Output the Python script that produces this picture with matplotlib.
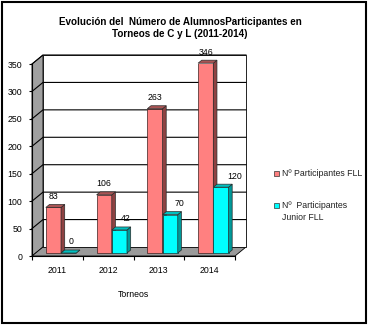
import matplotlib
matplotlib.use("Agg")
import matplotlib.pyplot as plt
from matplotlib import font_manager
from matplotlib.patches import Polygon, Rectangle
from matplotlib.lines import Line2D
from matplotlib.transforms import IdentityTransform, Affine2D

# ---- data -------------------------------------------------------------
years = ["2011", "2012", "2013", "2014"]
fll = [83, 106, 263, 346]
junior = [0, 42, 70, 120]
yticks = [0, 50, 100, 150, 200, 250, 300, 350]
series_names = ["Nº Participantes FLL", "Nº  Participantes\nJunior FLL"]
title = "Evolución del  Número de AlumnosParticipantes en\nTorneos de C y L (2011-2014)"
xlabel = "Torneos"

# ---- styling ----------------------------------------------------------
plt.rcParams["font.family"] = ["Liberation Sans", "DejaVu Sans"]
W, H, DPI = 371, 327, 100
FS = 6.3
RED = dict(front="#FF8080", top="#A85454", side="#8E4242")
CYAN = dict(front="#00FFFF", top="#00BFBF", side="#009999")
WALL = "#A0A0A0"
FLOOR = "#9A9A9A"

installed = {f.name for f in font_manager.fontManager.ttflist}
if "Liberation Sans Narrow" in installed:
    TITLE_FONT, TITLE_FS = ["Liberation Sans Narrow", "Liberation Sans"], 9.0
else:
    TITLE_FONT, TITLE_FS = ["Liberation Sans", "DejaVu Sans"], 7.1

fig = plt.figure(figsize=(W / DPI, H / DPI), dpi=DPI)
fig.patch.set_facecolor("white")
ax = fig.add_axes([32 / W, 71 / H, 203 / W, 192 / H])
ax.set_xlim(-0.5, len(years) - 0.5)
ax.set_ylim(yticks[0], yticks[-1])
ax.patch.set_visible(False)

# oblique depth of the 3-D box, in pixels
DX, DY = 11.0, 9.0
BAR_W = 0.3
D0, D1 = 1 / 3, 2 / 3


def px(x, y, d):
    X, Y = ax.transData.transform((x, y))
    return (X + DX * d, Y + DY * d)


def face(pts, color, z, ec="none", lw=0.0):
    ax.add_artist(Polygon(pts, closed=True, transform=IdentityTransform(),
                          facecolor=color, edgecolor=ec, lw=lw, zorder=z,
                          clip_on=False))


def seg(pts, z, color="black", lw=0.8):
    xs, ys = zip(*pts)
    ax.add_artist(Line2D(xs, ys, transform=IdentityTransform(), color=color,
                         lw=lw, zorder=z, clip_on=False))


x0, x1 = ax.get_xlim()
ymin, ymax = ax.get_ylim()

# walls and floor
face([px(x0, ymin, 0), px(x0, ymax, 0), px(x0, ymax, 1), px(x0, ymin, 1)],
     WALL, 0.5, ec="black", lw=0.6)
face([px(x0, ymin, 0), px(x1, ymin, 0), px(x1, ymin, 1), px(x0, ymin, 1)],
     FLOOR, 0.5, ec="black", lw=0.6)
face([px(x0, ymin, 1), px(x1, ymin, 1), px(x1, ymax, 1), px(x0, ymax, 1)],
     "white", 0.6, ec="black", lw=0.6)
for v in yticks[1:]:
    seg([px(x0, v, 0), px(x0, v, 1), px(x1, v, 1)], 0.7)

# bars: front face through ax.bar, side and top faces as parallelograms
front_tr = ax.transData + Affine2D().translate(DX * D0, DY * D0)
for i in range(len(years)):
    for vals, col, shift, front_series in ((fll, RED, -BAR_W, False),
                                           (junior, CYAN, 0.0, True)):
        v = vals[i]
        a, b = i + shift, i + shift + BAR_W
        z = 3 + i * 2 + (1 if front_series else 0)
        ax.bar([a], [v], width=BAR_W, align="edge", color=col["front"],
               edgecolor="#0b3b3b" if front_series else "#3a1f1f", lw=0.5,
               transform=front_tr, zorder=z)
        face([px(b, 0, D0), px(b, v, D0), px(b, v, D1), px(b, 0, D1)],
             col["side"], z, ec="#2a2a2a", lw=0.5)
        face([px(a, v, D0), px(b, v, D0), px(b, v, D1), px(a, v, D1)],
             col["top"], z, ec="#2a2a2a", lw=0.5)
        # value labels of the junior series lean right as the bar grows
        h_px = px(0, v, 0)[1] - px(0, 0, 0)[1]
        off = (2 + 0.18 * h_px) if front_series else 0.0
        ax.annotate(str(v), xy=((a + b) / 2, v), xycoords=front_tr,
                    xytext=(off * 0.72, 11 * 0.72), textcoords="offset points",
                    ha="center", va="center", fontsize=FS, zorder=20)

# axes, ticks, labels
for s in ("top", "right"):
    ax.spines[s].set_visible(False)
for s in ("left", "bottom"):
    ax.spines[s].set_linewidth(0.8)
    ax.spines[s].set_zorder(2)
ax.set_yticks(yticks)
ax.tick_params(axis="y", length=3 * 0.72, width=0.8, pad=5, labelsize=FS)
ax.set_xticks(range(len(years)), years)
ax.set_xticks([k - 0.5 for k in range(len(years) + 1)], minor=True)
ax.tick_params(axis="x", which="major", length=0, pad=7, labelsize=FS)
ax.tick_params(axis="x", which="minor", length=4 * 0.72, width=0.8)
ax.set_xlabel(xlabel, fontsize=FS, labelpad=11)

# title
fig.text(180 / W, 1 - 28 / H, title, ha="center", va="center",
         fontsize=TITLE_FS, fontweight="bold", family=TITLE_FONT,
         linespacing=1.2)

# legend
for k, (name, col) in enumerate(zip(series_names, (RED, CYAN))):
    yc = H - (173 + 32 * k)
    fig.add_artist(Rectangle((274, yc - 2.5), 5, 5, transform=IdentityTransform(),
                             facecolor=col["front"], edgecolor="#333333", lw=0.5))
    for j, line in enumerate(name.split("\n")):
        fig.text(282 / W, (yc - 13 * j) / H, line, ha="left", va="center",
                 fontsize=FS, color="#222222")

# chart border
fig.add_artist(Rectangle((1.5, H - 322.5), 364.5, 320.5, transform=IdentityTransform(),
                         facecolor="none", edgecolor="black", lw=1.5))

fig.savefig("out.png", dpi=DPI, facecolor="white")
